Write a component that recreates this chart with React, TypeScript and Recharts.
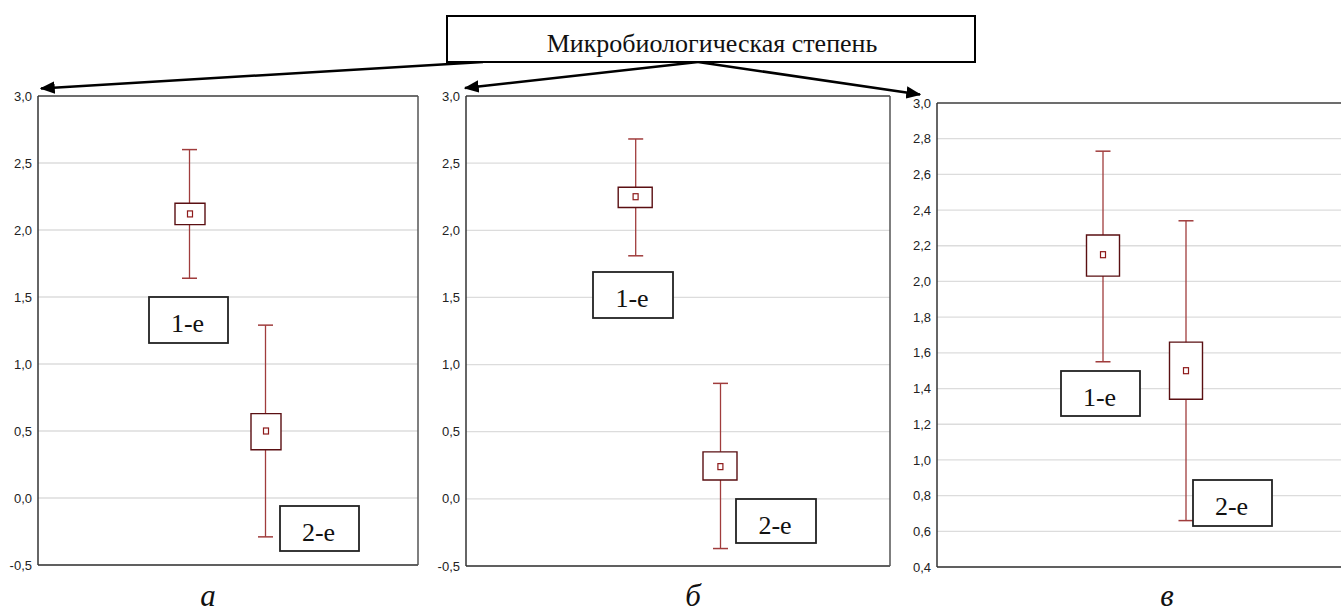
import React from 'react';
import { ComposedChart, Bar, Scatter, XAxis, YAxis, CartesianGrid } from 'recharts';

// ---- data ----
const categories = ['1-е', '2-е'];
const xPositions = [2, 3];
const xTicks = [0, 1, 2, 3, 4, 5];

// panel а
const meanA = [2.12, 0.5];
const boxLowA = [2.04, 0.36];
const boxHighA = [2.2, 0.63];
const whiskerLowA = [1.64, -0.29];
const whiskerHighA = [2.6, 1.29];

// panel б
const meanB = [2.25, 0.24];
const boxLowB = [2.17, 0.14];
const boxHighB = [2.32, 0.35];
const whiskerLowB = [1.81, -0.37];
const whiskerHighB = [2.68, 0.86];

// panel в
const meanC = [2.15, 1.5];
const boxLowC = [2.03, 1.34];
const boxHighC = [2.26, 1.66];
const whiskerLowC = [1.55, 0.66];
const whiskerHighC = [2.73, 2.34];

const yTicksAB = [-0.5, 0, 0.5, 1.0, 1.5, 2.0, 2.5, 3.0];
const yTicksC = [0.4, 0.6, 0.8, 1.0, 1.2, 1.4, 1.6, 1.8, 2.0, 2.2, 2.4, 2.6, 2.8, 3.0];
const panelLetters = ['а', 'б', 'в'];
const titleText = 'Микробиологическая степень';

type Row = { name: string; x: number; mean: number; box: [number, number]; whisker: [number, number] };

function buildRows(mean: number[], lo: number[], hi: number[], wlo: number[], whi: number[]): Row[] {
  return categories.map((name, i) => ({
    name,
    x: xPositions[i],
    mean: mean[i],
    box: [lo[i], hi[i]],
    whisker: [wlo[i], whi[i]],
  }));
}

const rowsA = buildRows(meanA, boxLowA, boxHighA, whiskerLowA, whiskerHighA);
const rowsB = buildRows(meanB, boxLowB, boxHighB, whiskerLowB, whiskerHighB);
const rowsC = buildRows(meanC, boxLowC, boxHighC, whiskerLowC, whiskerHighC);

const fmt = (v: number) => v.toFixed(1).replace('.', ',');

const WHISKER = '#a03c3c';
const BOXSTROKE = '#5a0f12';
const MEAN = '#8e1a1a';

const WhiskerShape = (props: any) => {
  const { x, y, width, height } = props;
  if (x == null || y == null) return <g />;
  const cx = x + width / 2;
  const y2 = y + height;
  return (
    <g>
      <line x1={cx} y1={y} x2={cx} y2={y2} stroke={WHISKER} strokeWidth={1.3} />
      <line x1={x} y1={y} x2={x + width} y2={y} stroke={WHISKER} strokeWidth={1.5} />
      <line x1={x} y1={y2} x2={x + width} y2={y2} stroke={WHISKER} strokeWidth={1.5} />
    </g>
  );
};

const MeanShape = (props: any) => {
  const { cx, cy } = props;
  if (cx == null || cy == null) return <g />;
  return <rect x={cx - 2.5} y={cy - 3} width={5} height={6} fill="#fff" stroke={MEAN} strokeWidth={1.2} />;
};

type PanelProps = {
  left: number;
  width: number;
  yAxisWidth: number;
  marginTop: number;
  marginBottom: number;
  marginRight: number;
  domain: [number, number];
  ticks: number[];
  rows: Row[];
  boxSize: number;
};

function Panel(p: PanelProps) {
  return (
    <div style={{ position: 'absolute', left: p.left, top: 0 }}>
      <ComposedChart
        width={p.width}
        height={615}
        data={p.rows}
        margin={{ top: p.marginTop, right: p.marginRight, bottom: p.marginBottom, left: 0 }}
      >
        <CartesianGrid vertical={false} stroke="#dcdcdc" strokeWidth={1.3} />
        <XAxis
          xAxisId={0}
          type="number"
          dataKey="x"
          domain={[0, 5]}
          ticks={xTicks}
          tick={false}
          tickSize={3}
          height={10}
          stroke="#333"
          strokeWidth={1.5}
          allowDataOverflow
        />
        <XAxis xAxisId="w" type="number" dataKey="x" domain={[0, 5]} hide allowDataOverflow />
        <XAxis
          xAxisId="top"
          orientation="top"
          type="number"
          dataKey="x"
          domain={[0, 5]}
          ticks={xTicks}
          tick={false}
          mirror
          tickSize={3}
          height={1}
          stroke="#444"
          strokeWidth={1.5}
          allowDataOverflow
        />
        <YAxis
          yAxisId={0}
          type="number"
          domain={p.domain}
          ticks={p.ticks}
          interval={0}
          tickFormatter={fmt}
          width={p.yAxisWidth}
          tickLine={false}
          tickSize={4}
          tickMargin={2}
          stroke="#333"
          strokeWidth={1.5}
          tick={{ fontSize: 13, fill: '#222', fontFamily: '"Liberation Sans", Arial, sans-serif' }}
          allowDataOverflow
        />
        <YAxis
          yAxisId="r"
          orientation="right"
          type="number"
          domain={p.domain}
          ticks={p.ticks}
          tick={false}
          mirror
          tickSize={3}
          width={1}
          stroke="#555"
          strokeWidth={1.5}
          allowDataOverflow
        />
        <Bar
          xAxisId="w"
          yAxisId={0}
          dataKey="whisker"
          barSize={15}
          shape={<WhiskerShape />}
          isAnimationActive={false}
        />
        <Bar
          xAxisId={0}
          yAxisId={0}
          dataKey="box"
          barSize={p.boxSize}
          fill="#ffffff"
          stroke={BOXSTROKE}
          strokeWidth={1.4}
          isAnimationActive={false}
        />
        <Scatter xAxisId={0} yAxisId={0} dataKey="mean" shape={<MeanShape />} isAnimationActive={false} />
      </ComposedChart>
    </div>
  );
}

const labelBox = (x: number, y: number, w: number, h: number, text: string, key: string) => (
  <g key={key}>
    <rect x={x} y={y} width={w} height={h} fill="#fff" stroke="#222" strokeWidth={1.8} />
    <text
      x={x + w / 2 - 1}
      y={y + 34.5}
      textAnchor="middle"
      fontSize={26}
      fontFamily='"Liberation Serif", "Times New Roman", serif'
      fill="#111"
    >
      {text}
    </text>
  </g>
);

export default function App() {
  const serif = '"Liberation Serif", "Times New Roman", serif';
  return (
    <div
      style={{
        position: 'absolute',
        left: 0,
        top: 0,
        width: 1341,
        height: 615,
        overflow: 'hidden',
        background: '#fff',
      }}
    >
      <Panel left={0} width={430} yAxisWidth={38} marginTop={96} marginBottom={40} marginRight={12}
        domain={[-0.5, 3.0]} ticks={yTicksAB} rows={rowsA} boxSize={30} />
      <Panel left={430} width={470} yAxisWidth={36} marginTop={96} marginBottom={39} marginRight={10}
        domain={[-0.5, 3.0]} ticks={yTicksAB} rows={rowsB} boxSize={34} />
      <Panel left={900} width={460} yAxisWidth={37} marginTop={103} marginBottom={38} marginRight={8}
        domain={[0.4, 3.0]} ticks={yTicksC} rows={rowsC} boxSize={33} />

      <svg
        width={1341}
        height={615}
        style={{ position: 'absolute', left: 0, top: 0, pointerEvents: 'none' }}
      >
        <defs>
          <marker id="arrowHead" markerWidth="6" markerHeight="5" refX="5.5" refY="2.5" orient="auto" markerUnits="strokeWidth">
            <polygon points="0,0 6,2.5 0,5" fill="#000" />
          </marker>
        </defs>
        <line x1={483} y1={62} x2={41} y2={88.4} stroke="#000" strokeWidth={2.5} markerEnd="url(#arrowHead)" />
        <line x1={698} y1={62} x2={465} y2={88} stroke="#000" strokeWidth={2.5} markerEnd="url(#arrowHead)" />
        <line x1={698} y1={62} x2={920} y2={94.5} stroke="#000" strokeWidth={2.5} markerEnd="url(#arrowHead)" />

        <rect x={447} y={16} width={528} height={46} fill="#fff" stroke="#000" strokeWidth={2} />
        <text x={712} y={52} textAnchor="middle" fontSize={26} fontFamily={serif} fill="#111">
          {titleText}
        </text>

        {labelBox(149, 297, 79, 46, categories[0], 'a1')}
        {labelBox(280, 506, 79, 45, categories[1], 'a2')}
        {labelBox(593, 272, 80, 46, categories[0], 'b1')}
        {labelBox(736, 499, 80, 44, categories[1], 'b2')}
        {labelBox(1061, 371, 79, 45, categories[0], 'c1')}
        {labelBox(1193, 480, 79, 46, categories[1], 'c2')}

        <text x={208} y={606} textAnchor="middle" fontSize={31} fontStyle="italic" fontFamily={serif} fill="#111">
          {panelLetters[0]}
        </text>
        <text x={693} y={606} textAnchor="middle" fontSize={31} fontStyle="italic" fontFamily={serif} fill="#111">
          {panelLetters[1]}
        </text>
        <text x={1167} y={606} textAnchor="middle" fontSize={31} fontStyle="italic" fontFamily={serif} fill="#111">
          {panelLetters[2]}
        </text>
      </svg>
    </div>
  );
}
